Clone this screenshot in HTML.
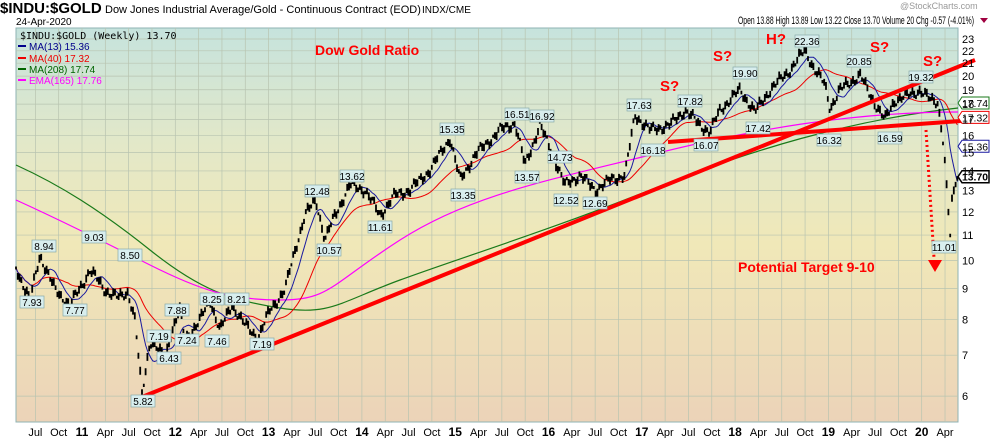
<!DOCTYPE html>
<html><head><meta charset="utf-8">
<style>
body{margin:0;background:#fff;width:990px;height:438px;overflow:hidden;font-family:"Liberation Sans",sans-serif}
svg{display:block}
</style></head><body>
<svg id="s" width="990" height="438" xmlns="http://www.w3.org/2000/svg" font-family="Liberation Sans, sans-serif">
<defs>
<linearGradient id="bg" x1="0" y1="0" x2="0" y2="1">
<stop offset="0" stop-color="#c6e3dd"/>
<stop offset="0.3" stop-color="#e3e8c8"/>
<stop offset="0.55" stop-color="#f0e8b8"/>
<stop offset="1" stop-color="#ecd3b8"/>
</linearGradient>
</defs>
<rect x="16" y="28" width="942" height="394" fill="url(#bg)" stroke="#8fb3b3" stroke-width="1"/>
<g id="grid" stroke="#b8c4b0" stroke-width="0.7"></g>
<g id="ser"></g>
<text x="0" y="13" font-size="15" font-weight="bold">$INDU:$GOLD</text>
<text x="105" y="13" font-size="11">Dow Jones Industrial Average/Gold - Continuous Contract (EOD)</text>
<text x="422" y="13" font-size="10">INDX/CME</text>
<text x="16" y="25" font-size="10">24-Apr-2020</text>
<text x="900" y="9" font-size="9" fill="#999">@StockCharts.com</text>
<text x="738" y="24" font-size="11" textLength="236" lengthAdjust="spacingAndGlyphs">Open 13.88 High 13.89 Low 13.22 Close 13.70 Volume 20 Chg -0.57 (-4.01%)</text>
<path d="M980 18 l8 0 l-4 5z" fill="#a00040"/>
<text x="20" y="39" font-size="10" font-family="DejaVu Sans Mono, monospace">$INDU:$GOLD (Weekly) 13.70</text>
<g font-size="10">
<rect x="18" y="45" width="8" height="2" fill="#00008b"/><text x="29" y="50" fill="#00008b">MA(13) 15.36</text>
<rect x="18" y="57" width="8" height="2" fill="#e00"/><text x="29" y="62" fill="#e00">MA(40) 17.32</text>
<rect x="18" y="68" width="8" height="2" fill="#006400"/><text x="29" y="73" fill="#006400">MA(208) 17.74</text>
<rect x="18" y="79" width="8" height="2" fill="#f0f"/><text x="29" y="84" fill="#f0f">EMA(165) 17.76</text>
</g>
<g fill="#f00" font-weight="bold" font-size="14">
<text x="315" y="55">Dow Gold Ratio</text>
<text x="738" y="272">Potential Target 9-10</text>
<text x="660" y="91" font-size="15">S?</text>
<text x="713" y="61" font-size="15">S?</text>
<text x="766" y="44" font-size="15">H?</text>
<text x="870" y="52" font-size="15">S?</text>
<text x="923" y="66" font-size="15">S?</text>
</g>
<g id="ax" font-size="11"></g>
</svg>
<script>
const NS="http://www.w3.org/2000/svg";
function el(p,t,a,txt){const e=document.createElementNS(NS,t);for(const k in a)e.setAttribute(k,a[k]);if(txt!==undefined)e.textContent=txt;p.appendChild(e);return e}
const Y=v=>39+(Math.log10(23)-Math.log10(v))*612;
const X=y=>82+(y-2011)*93.3;
const grid=document.getElementById('grid'),ax=document.getElementById('ax'),ser=document.getElementById('ser');
[6,7,8,9,10,11,12,13,14,15,16,17,18,19,20,21,22,23].forEach(v=>{const y=Y(v);el(grid,'line',{x1:16,x2:958,y1:y,y2:y});el(ax,'text',{x:962,y:y+4},v)});
const mn=['Apr','Jul','Oct'];
for(let yr=2010;yr<=2020;yr++){for(let q=0;q<4;q++){const x=X(yr+q/4);if(x<17||x>957)continue;el(grid,'line',{x1:x,x2:x,y1:28,y2:422});
if(q==0)el(ax,'text',{x:x,y:436,'text-anchor':'middle','font-weight':'bold','font-size':12},String(yr).slice(2));else el(ax,'text',{x:x,y:436,'text-anchor':'middle'},mn[q-1]);}}
const P=[[16,268],[30,300],[40,255],[55,290],[70,305],[82,285],[90,270],[105,290],[118,298],[128,292],[135,320],[142,395],[150,340],[158,350],[165,358],[172,330],[180,310],[185,340],[200,320],[210,300],[220,330],[232,305],[245,325],[258,338],[270,310],[285,290],[295,250],[305,215],[316,200],[325,240],[335,215],[350,185],[365,190],[380,215],[395,195],[410,190],[430,170],[450,138],[460,180],[475,155],[500,130],[515,123],[525,165],[540,125],[555,160],[565,185],[580,175],[595,190],[610,180],[625,175],[635,115],[650,130],[670,125],[685,110],[700,125],[710,132],[720,110],[740,90],[755,112],[770,90],[790,70],[805,50],[815,70],[825,85],[830,108],[840,90],[860,75],[870,95],[885,120],[895,100],[910,95],[920,90],[930,100],[938,102],[944,150],[948,205],[950,240],[952,200],[955,185],[958,176]];
function interp(x){for(let i=0;i<P.length-1;i++){if(x<=P[i+1][0]){const t=(x-P[i][0])/(P[i+1][0]-P[i][0]);return P[i][1]+t*(P[i+1][1]-P[i][1])}}return P[P.length-1][1]}
const ys=[],xs=[];let d='';
for(let x=16,i=0;x<=958;x+=1.8,i++){const nz=x>940?0.4:1;const y=interp(x)+(Math.sin(i*1.7)*3+Math.sin(i*0.53)*2.5)*nz;xs.push(x);ys.push(y);const h=3+Math.abs(Math.sin(i*2.3))*5;d+=`M${x.toFixed(1)} ${(y-h/2).toFixed(1)}v${h.toFixed(1)}`;}
function ma(n){let s='';for(let i=0;i<ys.length;i++){let a=0,c=0;for(let j=Math.max(0,i-n+1);j<=i;j++){a+=ys[j];c++}s+=(i?'L':'M')+xs[i].toFixed(1)+' '+(a/c).toFixed(1)}return s}
el(ser,'path',{d:'M16 165 C60 185 100 210 150 250 S230 300 280 308 S340 302 400 280 S550 230 650 190 S850 120 958 108',fill:'none',stroke:'#1a7a1a','stroke-width':1.2});
el(ser,'path',{d:'M16 200 C60 220 100 240 150 265 S230 300 280 300 S330 285 400 240 S550 180 650 155 S850 112 958 112',fill:'none',stroke:'#f0f','stroke-width':1.2});
el(ser,'path',{d:ma(30),fill:'none',stroke:'#e00','stroke-width':1});
el(ser,'path',{d:ma(10),fill:'none',stroke:'#1a1aa0','stroke-width':1});
el(ser,'path',{d:d,stroke:'#000','stroke-width':1.8,fill:'none'});
el(ser,'line',{x1:142,y1:397,x2:975,y2:60,stroke:'#f00','stroke-width':4});
el(ser,'line',{x1:668,y1:142,x2:975,y2:120,stroke:'#f00','stroke-width':4});
el(ser,'line',{x1:926,y1:130,x2:934,y2:258,stroke:'#f00','stroke-width':3,'stroke-dasharray':'2,3'});
el(ser,'path',{d:'M928 260 h14 l-7 12z',fill:'#f00'});
const L=[[7.93,20,297],[8.94,32,241],[7.77,63,305],[9.03,82,232],[8.50,118,250],[5.82,131,396],[7.19,147,331],[6.43,157,353],[7.88,165,305],[7.24,175,335],[8.25,200,294],[7.46,205,336],[8.21,225,294],[7.19,250,339],[12.48,305,186],[10.57,317,245],[13.62,340,171],[11.61,368,222],[15.35,440,124],[13.35,451,190],[16.51,505,109],[13.57,515,172],[16.92,530,111],[14.73,548,152],[12.52,554,195],[12.69,583,198],[17.63,627,100],[16.18,641,145],[17.82,678,96],[16.07,694,140],[19.90,733,68],[17.42,746,123],[22.36,795,36],[16.32,817,135],[20.85,847,56],[16.59,878,133],[19.32,909,72],[11.01,932,242]];
L.forEach(([v,x,y])=>{el(ser,'rect',{x:x,y:y-1,width:24,height:12,fill:'#d8eeee',stroke:'#88aaaa','stroke-width':0.7});el(ser,'text',{x:x+12,y:y+9,'font-size':10,'text-anchor':'middle'},v.toFixed(2))});
[[17.74,'#1a7a1a'],[17.32,'#e00'],[15.36,'#1a1aa0'],[13.70,'#000']].forEach(([v,c],i)=>{let y=Y(v);if(i==0)y-=5;if(i==1)y+=3;el(ser,'path',{d:`M958 ${y} l4 -6 h27 v12 h-27z`,fill:'#fff',stroke:c,'stroke-width':i==3?1.5:1});el(ser,'text',{x:962,y:y+4,'font-size':10,'font-weight':i==3?'bold':'normal',textLength:26,lengthAdjust:'spacingAndGlyphs'},v.toFixed(2))});
</script>
</body></html>
